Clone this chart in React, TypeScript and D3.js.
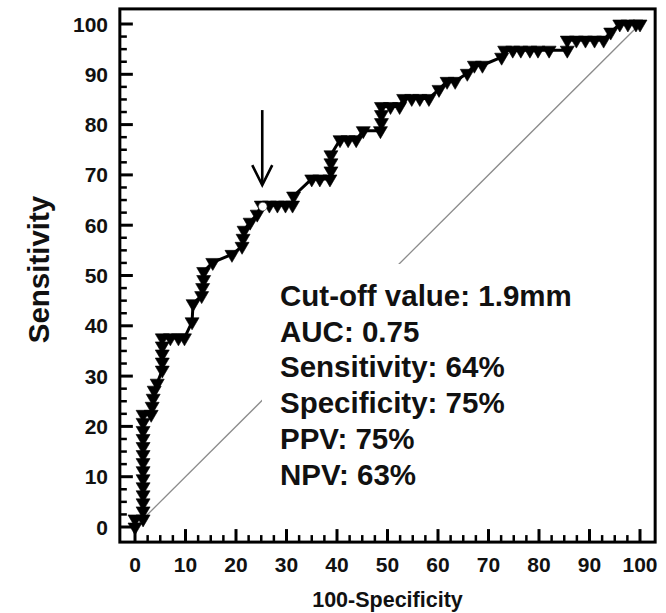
import React from 'react';
import * as d3 from 'd3';

// ROC curve operating points: 100-specificity (false positive rate, %) and sensitivity (%)
const fpr = [
  0, 0, 1.6, 1.6, 1.6, 1.6, 1.6, 1.6, 1.6, 1.6, 1.6, 1.6, 1.6, 1.6, 1.6, 1.6,
  3.2, 3.4, 3.6, 3.8, 4.4, 5.4, 5.4, 5.4, 5.4, 5.4, 7.0, 8.6, 9.8,
  11.3, 11.5, 13.2, 13.4, 13.6, 13.6, 15.4, 19.2, 21.2, 21.4, 21.6, 22.8, 24.2,
  25.0, 26.6, 28.2, 29.8, 31.2, 31.4, 35.0, 36.6, 38.6, 38.8, 38.8, 38.8,
  40.6, 42.2, 43.8, 45.2, 48.6, 48.8, 48.8, 48.8, 50.6, 52.4, 53.2, 54.8, 56.4, 58.2,
  60.2, 61.8, 63.4, 65.8, 67.2, 68.8, 72.6, 73.2, 74.8, 76.4, 78.2, 79.8, 82.0,
  85.6, 85.6, 87.4, 89.2, 91.0, 92.8, 94.2, 96.0, 97.6, 99.2, 100,
];
const tpr = [
  0, 1.6, 1.6, 3.2, 4.8, 6.4, 8.0, 9.6, 11.2, 12.8, 14.4, 16.0, 17.6, 19.2, 20.8, 22.4,
  22.4, 24.0, 25.6, 27.2, 28.6, 31.2, 32.8, 34.4, 36.0, 37.6, 37.6, 37.6, 37.6,
  40.8, 44.4, 46.0, 47.6, 49.2, 50.8, 52.6, 54.2, 55.8, 57.4, 59.0, 60.6, 62.2,
  64.0, 64.0, 64.0, 64.0, 64.0, 65.8, 69.2, 69.2, 69.2, 70.8, 72.4, 74.0,
  77.0, 77.0, 77.0, 78.8, 78.8, 80.4, 82.0, 83.6, 83.6, 83.6, 85.2, 85.2, 85.2, 85.2,
  87.0, 88.6, 88.6, 90.2, 91.8, 91.8, 93.4, 94.8, 94.8, 94.8, 94.8, 94.8, 94.8,
  94.8, 96.8, 96.8, 96.8, 96.8, 96.8, 98.4, 100, 100, 100, 100,
];

// Optimal cut-off point (criterion 1.9 mm)
const cutOffFpr = 25;
const cutOffTpr = 64;

const xTicks = [0, 10, 20, 30, 40, 50, 60, 70, 80, 90, 100];
const yTicks = [0, 10, 20, 30, 40, 50, 60, 70, 80, 90, 100];

const statLines = [
  'Cut-off value: 1.9mm',
  'AUC: 0.75',
  'Sensitivity: 64%',
  'Specificity: 75%',
  'PPV: 75%',
  'NPV: 63%',
];

const W = 666;
const H = 613;
const FONT = '"Liberation Sans", Arial, Helvetica, sans-serif';

export default function App() {
  const x = d3.scaleLinear().domain([0, 100]).range([135, 640]);
  const y = d3.scaleLinear().domain([0, 100]).range([527, 24]);

  const points: [number, number][] = fpr.map((f, i) => [f, tpr[i]]);
  const line = d3
    .line<[number, number]>()
    .x((d) => x(d[0]))
    .y((d) => y(d[1]));

  const minorTicks = d3.range(0, 100.001, 2.5).filter((v) => v % 10 !== 0);

  // Frame sits 3 units outside the data domain on every side
  const pad = 3;
  const fx0 = x(-pad);
  const fx1 = x(100 + pad);
  const fy0 = y(100 + pad);
  const fy1 = y(-pad);

  const majorLen = 13;
  const minorLen = 7;

  // downward triangle marker, centroid at the origin
  const tri = 'M-7,-4L7,-4L0,8Z';

  const cx = x(cutOffFpr);
  const cy = y(cutOffTpr);

  const textX = 280;
  const textY0 = 306;
  const lineGap = 35.7;

  return (
    <svg
      width={W}
      height={H}
      viewBox={`0 0 ${W} ${H}`}
      style={{ position: 'absolute', left: 0, top: 0, background: '#fff' }}
    >
      <rect x={0} y={0} width={W} height={H} fill="#fff" />

      {/* chance diagonal */}
      <line
        x1={x(0)}
        y1={y(0)}
        x2={x(100)}
        y2={y(100)}
        stroke="#8c8c8c"
        strokeWidth={1.3}
      />

      {/* white panel behind the statistics */}
      <rect
        x={textX - 18}
        y={textY0 - 42}
        width={335}
        height={250}
        fill="#fff"
      />

      {/* ROC curve */}
      <path
        d={line(points) ?? ''}
        fill="none"
        stroke="#000"
        strokeWidth={3}
        strokeLinejoin="round"
      />
      {points.map((p, i) => (
        <path
          key={i}
          d={tri}
          transform={`translate(${x(p[0])},${y(p[1])})`}
          fill="#000"
          stroke="#000"
          strokeWidth={0.6}
          strokeLinejoin="round"
        />
      ))}

      {/* cut-off marker and arrow */}
      <circle cx={cx + 1.5} cy={cy + 1.5} r={4.3} fill="#fff" stroke="#333" strokeWidth={0.6} />
      <g stroke="#000" strokeWidth={2.6} fill="none" strokeLinecap="butt">
        <line x1={cx + 1} y1={cy - 95} x2={cx + 1} y2={cy - 21} />
        <polyline
          points={`${cx - 9},${cy - 40} ${cx + 1},${cy - 20} ${cx + 11},${cy - 40}`}
          strokeLinejoin="miter"
        />
      </g>

      {/* statistics */}
      <g fontFamily={FONT} fontWeight="bold" fontSize={29.5} fill="#111">
        {statLines.map((s, i) => (
          <text key={s} x={textX} y={textY0 + i * lineGap}>
            {s}
          </text>
        ))}
      </g>

      {/* frame */}
      <rect
        x={fx0}
        y={fy0}
        width={fx1 - fx0}
        height={fy1 - fy0}
        fill="none"
        stroke="#000"
        strokeWidth={3}
      />

      {/* axis ticks (inward) */}
      <g stroke="#000">
        {yTicks.map((t) => (
          <line key={`ym${t}`} x1={fx0} x2={fx0 + majorLen} y1={y(t)} y2={y(t)} strokeWidth={3} />
        ))}
        {minorTicks.map((t) => (
          <line key={`yn${t}`} x1={fx0} x2={fx0 + minorLen} y1={y(t)} y2={y(t)} strokeWidth={2.5} />
        ))}
        {xTicks.map((t) => (
          <line key={`xm${t}`} x1={x(t)} x2={x(t)} y1={fy1} y2={fy1 - majorLen} strokeWidth={3} />
        ))}
        {minorTicks.map((t) => (
          <line key={`xn${t}`} x1={x(t)} x2={x(t)} y1={fy1} y2={fy1 - minorLen} strokeWidth={2.5} />
        ))}
      </g>

      {/* tick labels */}
      <g fontFamily={FONT} fontWeight="bold" fontSize={21} fill="#111">
        {yTicks.map((t) => (
          <text key={`yl${t}`} x={108} y={y(t)} dy="0.36em" textAnchor="end">
            {t}
          </text>
        ))}
        {xTicks.map((t) => (
          <text key={`xl${t}`} x={x(t)} y={572} textAnchor="middle">
            {t}
          </text>
        ))}
      </g>

      {/* axis titles */}
      <text
        x={(x(0) + x(100)) / 2}
        y={607}
        textAnchor="middle"
        fontFamily={FONT}
        fontWeight="bold"
        fontSize={21.5}
        fill="#111"
      >
        100-Specificity
      </text>
      <text
        transform={`translate(49,${(y(0) + y(100)) / 2 - 6}) rotate(-90)`}
        textAnchor="middle"
        fontFamily={FONT}
        fontWeight="bold"
        fontSize={29.5}
        fill="#111"
      >
        Sensitivity
      </text>
    </svg>
  );
}
